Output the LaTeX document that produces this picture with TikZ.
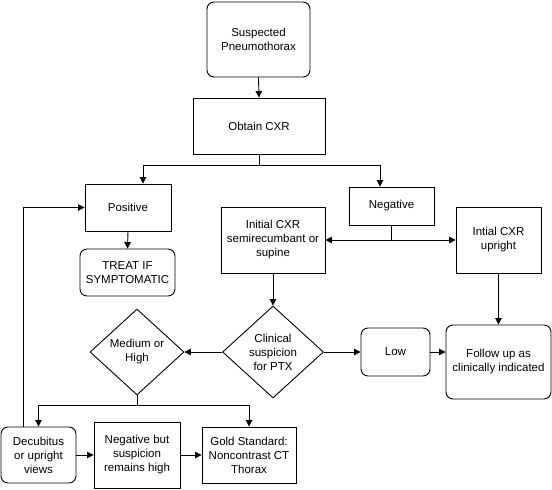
\documentclass[tikz,border=0pt]{standalone}
\usepackage{fontspec}
\setmainfont{Liberation Sans}
\usetikzlibrary{shapes.geometric,arrows.meta,calc}
\tikzset{
  box/.style={draw, line width=0.9pt, align=center, inner sep=0pt, font=\fontsize{11.5}{14}\selectfont},
  rbox/.style={box, rounded corners=7pt},
  dia/.style={box, diamond},
  link/.style={line width=0.9pt},
  arr/.style={link, -{Triangle[length=6.5pt,width=6.5pt]}},
  arrboth/.style={link, {Triangle[length=6.5pt,width=6.5pt]}-{Triangle[length=6.5pt,width=6.5pt]}},
}
\begin{document}
\begin{tikzpicture}[x=1pt,y=-1pt]
\useasboundingbox (0,0) rectangle (552,490);
\node[rbox, minimum width=103pt, minimum height=75pt] (sp) at (258.5,39.5) {Suspected\\Pneumothorax};
\node[box, minimum width=132pt, minimum height=56pt] (cxr) at (259,126) {Obtain CXR};
\node[box, minimum width=86pt, minimum height=47pt] (pos) at (128,207.5) {Positive};
\node[box, minimum width=85pt, minimum height=38pt] (neg) at (391.5,206) {Negative};
\node[box, minimum width=104pt, minimum height=66pt] (ini) at (273,240) {Initial CXR\\semirecumbant or\\supine};
\node[box, minimum width=85pt, minimum height=66pt] (up) at (498.5,240) {Intial CXR\\upright};
\node[rbox, minimum width=95pt, minimum height=47pt] (treat) at (127.5,272.5) {TREAT IF\\SYMPTOMATIC};
\node[dia, minimum width=101pt, minimum height=92pt] (cl) at (273,352) {Clinical\\suspicion\\for PTX};
\node[dia, minimum width=94pt, minimum height=86pt] (med) at (137,352) {Medium or\\High};
\node[rbox, minimum width=69pt, minimum height=48pt] (low) at (395.5,352) {Low};
\node[rbox, minimum width=105pt, minimum height=74pt] (fu) at (498.5,362) {Follow up as\\clinically indicated};
\node[rbox, minimum width=75pt, minimum height=56pt] (dec) at (38.5,455) {Decubitus\\or upright\\views};
\node[box, minimum width=86pt, minimum height=66pt] (negb) at (137,455) {Negative but\\suspicion\\remains high};
\node[box, minimum width=94pt, minimum height=56pt] (gold) at (249,455) {Gold Standard:\\Noncontrast CT\\Thorax};

\coordinate (b1) at (259,165);
\coordinate (b2) at (137,405.5);
\draw[arr] (sp.south) -- (cxr.north);
\draw[link] (cxr.south) -- (b1);
\draw[arr] (b1) -| ($(pos.north)+(15,0)$);
\draw[arr] (b1) -| ($(neg.north)+(-11.5,0)$);
\draw[arr] (pos.south) -- (treat.north);
\draw[link] (neg.south) -- (neg.south |- ini.east);
\draw[arrboth] (ini.east) -- (up.west);
\draw[arr] (ini.south) -- (cl.north);
\draw[arr] (up.south) -- (fu.north);
\draw[arr] (cl.east) -- (low.west);
\draw[arr] (low.east) -- (low.east -| fu.west);
\draw[arr] (cl.west) -- (med.east);
\draw[link] (med.south) -- (b2);
\draw[arr] (b2) -| (dec.north);
\draw[arr] (b2) -| (gold.north);
\draw[arr] (dec.east) -- (negb.west);
\draw[arr] (negb.east) -- (gold.west);
\draw[arr] ($(dec.north)+(-15.5,0)$) |- (pos.west);
\end{tikzpicture}
\end{document}
